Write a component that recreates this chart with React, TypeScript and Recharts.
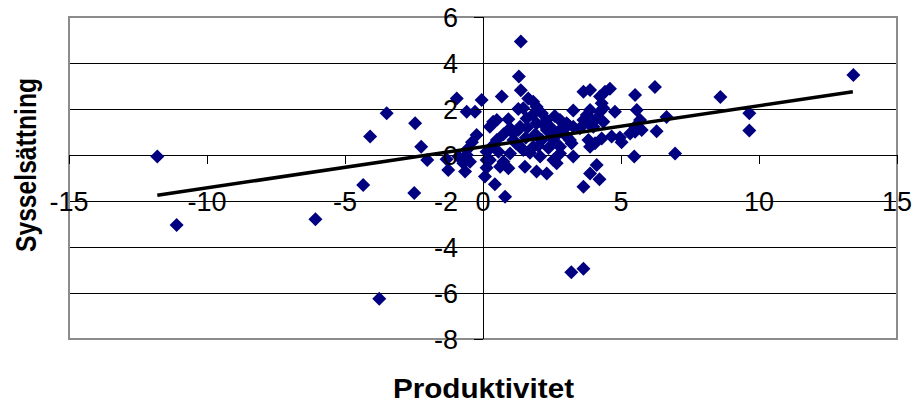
import React from 'react'
import {
    ScatterChart,
    Scatter,
    XAxis,
    YAxis,
    CartesianGrid,
    ReferenceLine,
    ReferenceArea,
} from 'recharts'

// Produktivitet (x) and Sysselsättning (y)
const prodX = [
    -11.8, -11.1, -6.07, -4.34, -4.09, -3.76, -3.49, -2.49, -2.46, -2.24,
    -2.02, -1.32, -1.26, -0.95, -0.89, -0.71, -0.65, -0.59, -0.59, -0.59,
    -0.4, -0.47, -0.29, -0.23, -0.05, 0.07, 0.13, 0.13, 0.13, 0.25,
    0.25, 0.31, 0.37, 0.43, 0.5, 0.5, 0.56, 0.62, 0.68, 0.74,
    0.74, 0.8, 0.92, 0.92, 0.98, 0.98, 1.1, 1.1, 1.28, 1.28,
    1.3, 1.34, 1.34, 1.37, 1.37, 1.46, 1.46, 1.52, 1.58, 1.64,
    1.82, 1.82, 1.94, 1.94, 1.94, 2.07, 2.13, 2.13, 2.31, 2.31,
    2.31, 2.37, 2.43, 2.55, 2.55, 2.67, 2.67, 2.79, 2.79, 2.79,
    2.79, 2.85, 3.03, 3.03, 3.09, 3.15, 3.21, 3.27, 3.27, 3.27,
    3.2, 3.51, 3.64, 3.64, 3.64, 3.64, 3.76, 3.82, 3.88, 3.88,
    3.88, 3.88, 3.88, 4.0, 4.06, 4.12, 4.12, 4.22, 4.24, 4.24,
    4.3, 4.3, 4.36, 4.36, 4.42, 4.6, 4.66, 4.78, 4.96, 5.02,
    5.33, 5.48, 5.51, 5.51, 5.51, 5.57, 5.69, 5.75, 6.23, 6.29,
    6.65, 6.96, 8.6, 9.65, 9.65, 13.42,
    1.6, 1.9, 2.2, 1.2, 1.7, 2.5, 1.8, 2.0, 1.55, 2.6,
]
const sysY = [
    -0.07, -3.04, -2.79, -1.3, 0.8, -6.25, 1.81, -1.65, 1.38, 0.36,
    -0.22, -0.19, -0.65, 2.46, -0.07, -0.36, -0.72, 0.22, 0, 1.88,
    0.55, -0.29, 1.88, 0.87, 2.39, -0.94, -0.22, -0.55, 0.14, 1.23,
    -0.22, 0.36, 1.45, -1.27, 0.65, 1.52, 0.14, -0.51, 2.54, -0.29,
    0.9, -1.81, -0.58, 1.55, 0.07, 1.16, 0.65, 0.94, 1.09, 2.0,
    3.41, 0.36, 1.23, 2.81, 4.93, 0.22, 2.03, -0.51, 1.59, 2.46,
    0.36, 2.32, -0.72, 1.38, 2.1, -0.07, 0.65, 1.81, -0.8, 1.09,
    1.52, 0.3, 1.23, -0.22, 0.65, -0.36, 0.87, 0.07, 0.36, 1.09,
    1.52, 1.45, 0.8, 1.38, 1.3, 0.65, 0.51, -0.07, 1.23, 1.93,
    -5.1, 1.16, -1.38, -4.95, 1.52, 2.75, 1.74, 0.65, -0.8, 0.36,
    1.3, 1.96, 2.83, 1.23, 0.51, -0.43, 1.6, -1.05, 1.88, 2.54,
    0.72, 2.25, 1.45, 2.03, 2.75, 2.88, 0.8, 1.88, 0.76, 0.55,
    0.94, -0.07, 1.01, 1.23, 2.61, 1.96, 1.52, 1.09, 2.96, 1.03,
    1.65, 0.07, 2.52, 1.06, 1.81, 3.48,
    1.2, 0.9, 1.3, 0.5, 0.1, 0.95, 1.75, 0.4, 0.75, 1.7,
]

// linear trend line end points
const trendX = [-11.8, 13.4]
const trendY = [-1.75, 2.75]

const xTicks = [-15, -10, -5, 0, 5, 10, 15]
const yTicks = [-8, -6, -4, -2, 0, 2, 4, 6]

const points = prodX.map((x, i) => ({ x, y: sysY[i] }))
const trend = trendX.map((x, i) => ({ x, y: trendY[i] }))

const W = 913
const H = 404
const MARGIN = { top: 17, right: 16, bottom: 35, left: 9 }
const X_AXIS_H = 30
const Y_AXIS_W = 60
const PLOT_L = MARGIN.left + Y_AXIS_W
const PLOT_W = W - MARGIN.right - PLOT_L
const PLOT_H = H - MARGIN.bottom - X_AXIS_H - MARGIN.top
const X_DOM: [number, number] = [-15, 15]
const Y_DOM: [number, number] = [-8, 6]

// the axes cross at the origin, like in Excel
const ZERO_X = PLOT_L + ((0 - X_DOM[0]) / (X_DOM[1] - X_DOM[0])) * PLOT_W
const ZERO_Y = MARGIN.top + ((Y_DOM[1] - 0) / (Y_DOM[1] - Y_DOM[0])) * PLOT_H

const FONT = '"Liberation Sans", Arial, sans-serif'
const NAVY = '#000080'

const CRISP = `
.recharts-cartesian-grid line,
.recharts-reference-line line,
.recharts-reference-area rect,
.axis-tick line { shape-rendering: crispEdges; }
`

const XTick = ({ x, payload }: any) => (
    <g className="axis-tick">
        <line x1={x} x2={x} y1={ZERO_Y} y2={ZERO_Y + 9} stroke="#000" />
        <text x={x} y={ZERO_Y + 56} textAnchor="middle" fontSize={27} fontFamily={FONT} fill="#000">
            {payload.value}
        </text>
    </g>
)

const YTick = ({ y, payload }: any) => (
    <g className="axis-tick">
        <line x1={ZERO_X - 9} x2={ZERO_X} y1={y} y2={y} stroke="#000" />
        <text x={ZERO_X - 25} y={y} dy="0.36em" textAnchor="end" fontSize={27} fontFamily={FONT} fill="#000">
            {payload.value}
        </text>
    </g>
)

const Diamond = ({ cx, cy }: any) => (
    <polygon
        points={`${cx},${cy - 7} ${cx + 7},${cy} ${cx},${cy + 7} ${cx - 7},${cy}`}
        fill={NAVY}
    />
)

export default function App() {
    return (
        <div style={{ position: 'absolute', left: 0, top: 0, width: W, height: H, background: '#fff' }}>
            <style>{CRISP}</style>
            <ScatterChart width={W} height={H} margin={MARGIN}>
                <CartesianGrid vertical={false} stroke="#000" horizontalValues={yTicks} />
                <XAxis
                    type="number"
                    dataKey="x"
                    domain={X_DOM}
                    ticks={xTicks}
                    interval={0}
                    height={X_AXIS_H}
                    axisLine={false}
                    tickLine={false}
                    tick={<XTick />}
                    allowDataOverflow
                />
                <YAxis
                    type="number"
                    dataKey="y"
                    domain={Y_DOM}
                    ticks={yTicks}
                    interval={0}
                    width={Y_AXIS_W}
                    axisLine={false}
                    tickLine={false}
                    tick={<YTick />}
                    allowDataOverflow
                />
                <ReferenceArea x1={-15} x2={15} y1={-8} y2={6} fill="none" stroke="#8c8c8c" strokeWidth={2} />
                <ReferenceLine x={0} stroke="#000" />
                <ReferenceLine y={0} stroke="#000" />
                <Scatter data={points} shape={<Diamond />} isAnimationActive={false} />
                <Scatter
                    data={trend}
                    line={{ stroke: '#000', strokeWidth: 3.5 }}
                    shape={() => <g />}
                    isAnimationActive={false}
                />
            </ScatterChart>
            <svg width={W} height={H} style={{ position: 'absolute', left: 0, top: 0, pointerEvents: 'none' }}>
                <text
                    x={483.5}
                    y={398}
                    textAnchor="middle"
                    fontSize={28}
                    fontWeight="bold"
                    fontFamily={FONT}
                    textLength={181}
                    lengthAdjust="spacingAndGlyphs"
                >
                    Produktivitet
                </text>
                <text
                    transform="translate(36,165) rotate(-90)"
                    textAnchor="middle"
                    fontSize={29}
                    fontWeight="bold"
                    fontFamily={FONT}
                    textLength={174}
                    lengthAdjust="spacingAndGlyphs"
                >
                    Sysselsättning
                </text>
            </svg>
        </div>
    )
}
